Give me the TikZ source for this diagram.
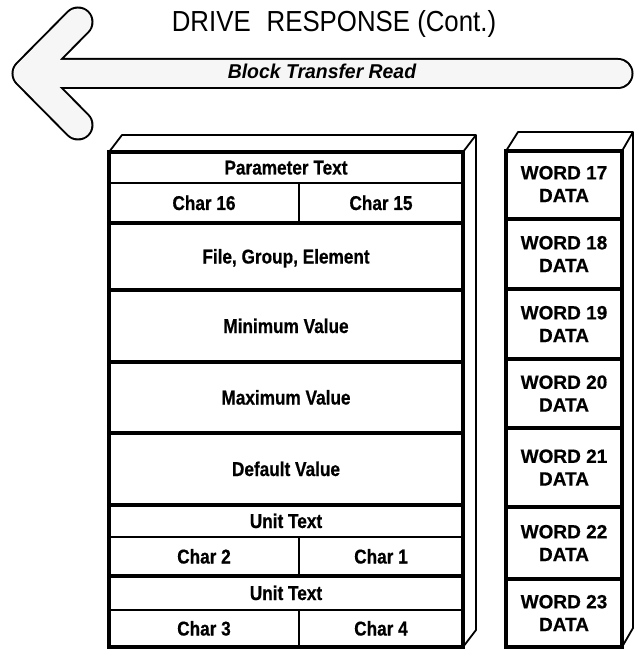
\documentclass[tikz,border=0pt]{standalone}
\usepackage{fontspec}
\setmainfont{Liberation Sans}
\newfontfamily\condbold{Liberation Sans Bold}[FakeStretch=0.86, FakeBold=0.6]
\newfontfamily\wordbold{Liberation Sans Bold}[FakeStretch=0.99, FakeBold=0.5]
\newfontfamily\titlefont{Liberation Sans}[FakeStretch=0.89]
\newfontfamily\bannerfont{Liberation Sans}[FakeStretch=0.97]
\definecolor{arrowfill}{gray}{0.965}

\tikzset{
  cell/.style={inner sep=0pt, text height=14pt, text depth=0pt,
    font=\condbold\fontsize{20}{22}\selectfont},
  wordcell/.style={inner sep=0pt, align=center,
    font=\wordbold\fontsize{19.2}{22.7}\selectfont},
  frontln/.style={line width=4.8pt},
  rowln/.style={line width=4.8pt},
  thinln/.style={line width=1.8pt},
  backln/.style={line width=1.8pt, line join=round},
  arrowbody/.style={line cap=round, line join=round},
}

\begin{document}
\begin{tikzpicture}[x=1pt,y=-1pt]
\useasboundingbox (0,0) rectangle (634,652);

% ---- left-pointing banner arrow ----
\coordinate (tip)   at (27,73.5);
\coordinate (barbU) at (78,22);
\coordinate (barbL) at (78,125);
\coordinate (tail)  at (618,73.5);
\draw[arrowbody, line width=31pt, black] (barbU) -- (tip) -- (barbL) (tip) -- (tail);
\draw[arrowbody, line width=27pt, arrowfill] (barbU) -- (tip) -- (barbL) (tip) -- (tail);

\node[anchor=base, font=\titlefont\fontsize{29}{30}\selectfont] (title) at (334,32)
  {DRIVE\hspace{0.55em}RESPONSE (Cont.)};
\node[anchor=base, font=\bannerfont\bfseries\itshape\fontsize{20}{22}\selectfont] (banner)
  at (322,79) {Block Transfer Read};

% ---- parameter block (3-D box) ----
\draw[backln] (109,152) -- (122,135) -- (476,135) -- (476,630) -- (463,647);
\draw[backln] (463,152) -- (476,135);

\foreach \y in {183,537,610} \draw[thinln] (109,\y) -- (463,\y);
\foreach \a/\b in {183/223,537/576,610/647} \draw[thinln] (299,\a) -- (299,\b);
\foreach \y in {223,290,362,433,505,576} \draw[rowln] (109,\y) -- (463,\y);
\draw[frontln] (109,152) rectangle (463,647);

\node[cell] (ptext) at (286,167.5) {Parameter Text};
\node[cell] (c16)   at (204,203)   {Char 16};
\node[cell] (c15)   at (381,203)   {Char 15};
\node[cell] (fge)   at (286,256.5) {File, Group, Element};
\node[cell] (minv)  at (286,326)   {Minimum Value};
\node[cell] (maxv)  at (286,397.5) {Maximum Value};
\node[cell] (defv)  at (286,469)   {Default Value};
\node[cell] (unitA) at (286,521)   {Unit Text};
\node[cell] (c2)    at (204,556.5) {Char 2};
\node[cell] (c1)    at (381,556.5) {Char 1};
\node[cell] (unitB) at (286,593)   {Unit Text};
\node[cell] (c3)    at (204,628.5) {Char 3};
\node[cell] (c4)    at (381,628.5) {Char 4};

% ---- word column (3-D box) ----
\draw[backln] (506,151) -- (518,132) -- (633,132) -- (633,628) -- (622,647);
\draw[backln] (622,151) -- (633,132);
\foreach \y in {219,289,359,428,507,579} \draw[rowln] (506,\y) -- (622,\y);
\draw[frontln] (506,151) rectangle (622,647);

\node[wordcell] (w17) at (564,184)   {WORD 17\\DATA};
\node[wordcell] (w18) at (564,254)   {WORD 18\\DATA};
\node[wordcell] (w19) at (564,324)   {WORD 19\\DATA};
\node[wordcell] (w20) at (564,393.5) {WORD 20\\DATA};
\node[wordcell] (w21) at (564,467.5) {WORD 21\\DATA};
\node[wordcell] (w22) at (564,543)   {WORD 22\\DATA};
\node[wordcell] (w23) at (564,613)   {WORD 23\\DATA};
\end{tikzpicture}
\end{document}
